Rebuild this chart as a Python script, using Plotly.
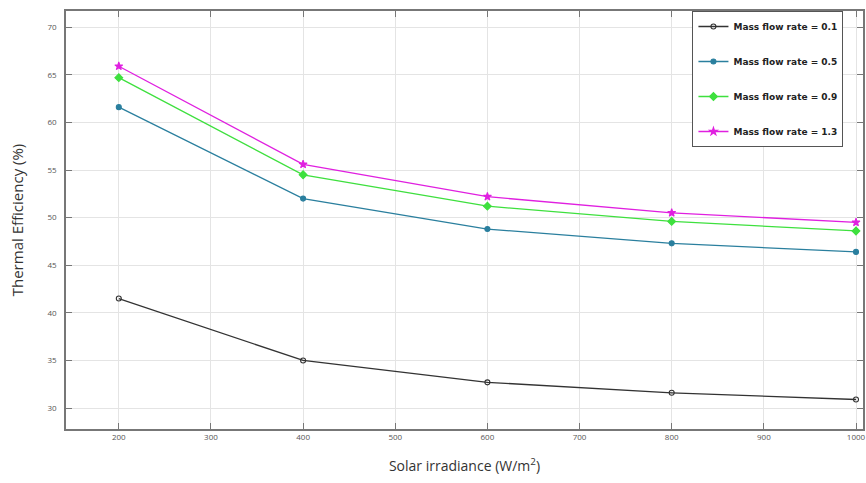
import plotly.graph_objects as go

irradiance = [200, 400, 600, 800, 1000]
eff_01 = [41.5, 35.0, 32.7, 31.6, 30.9]
eff_05 = [61.6, 52.0, 48.8, 47.3, 46.4]
eff_09 = [64.7, 54.5, 51.2, 49.6, 48.6]
eff_13 = [65.9, 55.6, 52.2, 50.5, 49.5]
labels = ["Mass flow rate = 0.1", "Mass flow rate = 0.5", "Mass flow rate = 0.9", "Mass flow rate = 1.3"]
x_ticks = [200, 300, 400, 500, 600, 700, 800, 900, 1000]
y_ticks = [30, 35, 40, 45, 50, 55, 60, 65, 70]

series = [
    (eff_01, "#333333", "circle-open", 5),
    (eff_05, "#2a7f9e", "circle", 5),
    (eff_09, "#3ee03e", "diamond", 6),
    (eff_13, "#e020e0", "star", 6),
]

fig = go.Figure()
for i, (vals, col, sym, sz) in enumerate(series):
    fig.add_trace(go.Scatter(
        x=irradiance, y=vals, mode="lines+markers", name=labels[i],
        legendgroup=str(i),
        line=dict(color=col, width=1.3),
        marker=dict(symbol=sym, size=sz, color=col, line=dict(color=col, width=1.1)),
    ))

axis_common = dict(
    showgrid=True, gridcolor="#e4e4e4", gridwidth=1,
    showline=True, linecolor="#777777", linewidth=1.5, mirror="ticks",
    ticks="inside", ticklen=6, tickcolor="#777777",
    tickfont=dict(family="Open Sans", size=8, color="#555555"),
    zeroline=False,
)

fig.update_layout(
    width=866, height=483,
    margin=dict(l=66, r=0, t=11, b=54),
    paper_bgcolor="white", plot_bgcolor="white",
    xaxis=dict(range=[142.7, 1007.6], tickvals=x_ticks, ticklabeloverflow="allow",
               title=dict(text="Solar irradiance (W/m<sup>2</sup>)", standoff=20,
                          font=dict(family="Open Sans", size=14, color="#333333")),
               **axis_common),
    yaxis=dict(range=[27.8, 71.7], tickvals=y_ticks, ticklabelstandoff=6,
               title=dict(text="Thermal Efficiency (%)", standoff=20,
                          font=dict(family="Open Sans", size=15, color="#333333")),
               **axis_common),
    legend=dict(x=0.786, y=1, xanchor="left", yanchor="top",
                bgcolor="white", bordercolor="#555555", borderwidth=1,
                font=dict(family="DejaVu Sans", size=9, color="#222222", weight="bold"),
                traceorder="grouped", tracegroupgap=16, itemwidth=30),
    showlegend=True,
)

fig.write_html("out.html")
